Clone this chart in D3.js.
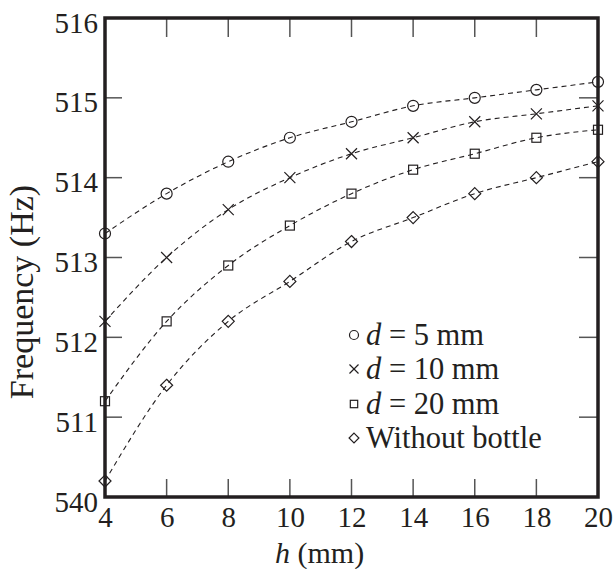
<!DOCTYPE html>
<html><head><meta charset="utf-8">
<script src="https://cdn.jsdelivr.net/npm/d3@7"></script>
<style>
html,body{margin:0;padding:0;background:#fff;}
</style></head>
<body><svg id="chart" width="615" height="569"></svg>
<script>
const hValues = [4, 6, 8, 10, 12, 14, 16, 18, 20];
const d5 = [513.3, 513.8, 514.2, 514.5, 514.7, 514.9, 515.0, 515.1, 515.2];
const d10 = [512.2, 513.0, 513.6, 514.0, 514.3, 514.5, 514.7, 514.8, 514.9];
const d20 = [511.2, 512.2, 512.9, 513.4, 513.8, 514.1, 514.3, 514.5, 514.6];
const noBottle = [510.2, 511.4, 512.2, 512.7, 513.2, 513.5, 513.8, 514.0, 514.2];
const xTicks = [4, 6, 8, 10, 12, 14, 16, 18, 20];
const yTicks = [510, 511, 512, 513, 514, 515, 516];
const yTickLabels = ["540", "511", "512", "513", "514", "515", "516"];
const seriesSymbols = ["circle", "cross", "square", "diamond"];
const legendLabels = [["d", " = 5 mm"], ["d", " = 10 mm"], ["d", " = 20 mm"], ["", "Without bottle"]];

const series = [d5, d10, d20, noBottle];
const FONT = "'Liberation Serif', 'Times New Roman', Times, serif";
const svg = d3.select("#chart");
const L = 105, R = 598, T = 18, B = 497;
const x = d3.scaleLinear().domain([4, 20]).range([L, R]);
const y = d3.scaleLinear().domain([510, 516]).range([B, T]);
const ink = "#231f20";
const FS = 29;

const tickG = svg.append("g").attr("stroke", "#555").attr("stroke-width", 1.5);
xTicks.slice(1, -1).forEach(v => {
  tickG.append("line").attr("x1", x(v)).attr("x2", x(v)).attr("y1", B).attr("y2", B - 18);
  tickG.append("line").attr("x1", x(v)).attr("x2", x(v)).attr("y1", T).attr("y2", T + 19);
});
yTicks.slice(1, -1).forEach(v => {
  tickG.append("line").attr("x1", L).attr("x2", L + 17).attr("y1", y(v)).attr("y2", y(v));
  tickG.append("line").attr("x1", R).attr("x2", R - 19).attr("y1", y(v)).attr("y2", y(v));
});

const xAxis = d3.axisBottom(x).tickValues(xTicks).tickSize(0).tickPadding(0).tickFormat(d3.format("d"));
const gx = svg.append("g").attr("transform", `translate(0,${B})`).call(xAxis);
gx.select(".domain").remove();
gx.attr("font-family", null).attr("font-size", null);
gx.selectAll("text").style("font-family", FONT).style("font-size", FS + "px").attr("fill", ink)
  .attr("dy", null).attr("y", 30);

const yAxis = d3.axisLeft(y).tickValues(yTicks).tickSize(0).tickPadding(6)
  .tickFormat((d, i) => yTickLabels[i]);
const gy = svg.append("g").attr("transform", `translate(${L},0)`).call(yAxis);
gy.select(".domain").remove();
gy.attr("font-family", null).attr("font-size", null);
gy.selectAll("text").style("font-family", FONT).style("font-size", FS + "px").attr("fill", ink)
  .attr("dy", null).attr("y", 14).attr("x", -7);

const line = d3.line().x((d, i) => x(hValues[i])).y(d => y(d)).curve(d3.curveMonotoneX);
series.forEach(s => {
  svg.append("path").attr("d", line(s)).attr("fill", "none").attr("stroke", ink)
    .attr("stroke-width", 1.1).attr("stroke-dasharray", "5,4");
});

function marker(g, type, cx, cy, s) {
  let el;
  if (type === "circle") el = g.append("circle").attr("cx", cx).attr("cy", cy).attr("r", 5.5 * s);
  else if (type === "square") el = g.append("rect").attr("x", cx - 4.5 * s).attr("y", cy - 4.5 * s).attr("width", 9 * s).attr("height", 9 * s);
  else if (type === "diamond") el = g.append("path").attr("d", `M${cx},${cy - 6 * s}L${cx + 6 * s},${cy}L${cx},${cy + 6 * s}L${cx - 6 * s},${cy}Z`);
  else el = g.append("path").attr("d", `M${cx - 5.5 * s},${cy - 5.5 * s}L${cx + 5.5 * s},${cy + 5.5 * s}M${cx - 5.5 * s},${cy + 5.5 * s}L${cx + 5.5 * s},${cy - 5.5 * s}`);
  el.attr("fill", "none").attr("stroke", ink).attr("stroke-width", 1.2);
}
const mg = svg.append("g");
series.forEach((s, si) => {
  s.forEach((v, i) => marker(mg, seriesSymbols[si], x(hValues[i]), y(v), 1));
});

svg.append("rect").attr("x", L).attr("y", T).attr("width", R - L).attr("height", B - T)
  .attr("fill", "none").attr("stroke", ink).attr("stroke-width", 3.5);

function txt(sel, fs) { return sel.style("font-family", FONT).style("font-size", (fs || FS) + "px").attr("fill", ink); }
const xt = txt(svg.append("text"), 30).attr("x", 275).attr("y", 563);
xt.append("tspan").style("font-style", "italic").text("h");
xt.append("tspan").text(" (mm)");
txt(svg.append("text"), 34).attr("transform", `translate(33,292) rotate(-90)`).attr("text-anchor", "middle")
  .text("Frequency (Hz)");

const lg = svg.append("g");
const legY = [345, 379, 414, 448];
legendLabels.forEach((lab, i) => {
  marker(lg, seriesSymbols[i], 354, legY[i] - 10, 0.82);
  const t = txt(lg.append("text"), 30.5).attr("x", 366).attr("y", legY[i]);
  if (lab[0]) t.append("tspan").style("font-style", "italic").text(lab[0]);
  t.append("tspan").text(lab[1]);
});
</script></body></html>
